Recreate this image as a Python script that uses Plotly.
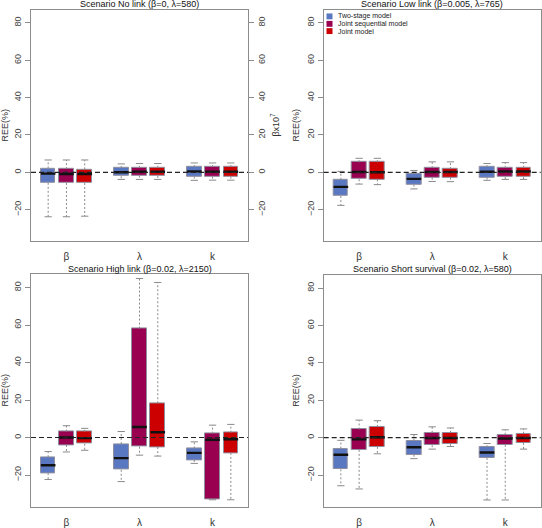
import plotly.graph_objects as go

# ---------------- data (REE %) ----------------
# order in each list: beta(TS, JS, J), lambda(TS, JS, J), k(TS, JS, J)
PARAMS = ["β", "λ", "k"]
MODELS = ["Two-stage model", "Joint sequential model", "Joint model"]
TITLES = ["Scenario No link (β=0, λ=580)",
          "Scenario Low link (β=0.005, λ=765)",
          "Scenario High link (β=0.02, λ=2150)",
          "Scenario Short survival (β=0.02, λ=580)"]
Y_TICKS = [-20, 0, 20, 40, 60, 80]

no_low = [-23.8, -23.8, -23.5, -3.8, -3.8, -3.8, -4.3, -4.2, -4.2]
no_q1 = [-5.6, -5.7, -5.7, -2.1, -1.7, -1.9, -2.3, -2.3, -2.3]
no_med = [-0.7, -0.9, -0.9, 0.0, 0.3, 0.3, 0.5, 0.3, 0.3]
no_q3 = [2.1, 1.7, 1.6, 2.3, 2.4, 2.4, 2.8, 2.8, 2.8]
no_up = [6.6, 6.6, 6.6, 4.5, 4.7, 4.7, 5.0, 5.0, 5.0]

lowl_low = [-17.7, -6.3, -6.6, -8.9, -4.9, -5.0, -4.3, -3.8, -3.8]
lowl_q1 = [-12.7, -3.7, -3.8, -6.6, -2.8, -2.8, -2.8, -2.6, -2.6]
lowl_med = [-7.8, 0.2, 0.0, -3.5, 0.2, 0.2, 0.3, 0.5, 0.5]
lowl_q3 = [-4.0, 5.4, 5.4, -1.0, 2.3, 1.7, 2.8, 2.4, 2.4]
lowl_up = [0.5, 7.5, 7.5, 1.0, 5.6, 5.6, 4.7, 5.2, 5.2]

high_low = [-22.4, -7.7, -6.8, -23.5, -9.4, -9.9, -13.8, -33.2, -33.2]
high_q1 = [-19.0, -4.0, -3.3, -17.2, -4.9, -5.1, -12.0, -33.2, -8.2]
high_med = [-14.8, 0.0, -0.3, -11.0, 5.6, 2.8, -8.2, -1.2, -0.9]
high_q3 = [-10.5, 3.2, 3.1, -3.5, 58.1, 18.3, -5.8, 2.1, 2.6]
high_up = [-7.5, 6.3, 4.9, 3.2, 84.8, 82.7, -2.3, 6.6, 7.0]

short_low = [-25.7, -27.4, -8.6, -11.2, -6.1, -4.7, -33.3, -33.3, -6.1]
short_q1 = [-16.9, -6.5, -4.9, -9.1, -4.0, -3.3, -10.8, -3.8, -2.8]
short_med = [-9.1, -0.9, 0.2, -5.1, -0.2, -0.2, -7.9, -0.5, -0.2]
short_q3 = [-5.8, 4.4, 5.8, -1.7, 2.6, 2.6, -5.1, 1.6, 2.1]
short_up = [-1.4, 9.4, 9.1, 1.7, 5.8, 5.2, -3.1, 4.2, 4.7]

# ---------------- styling ----------------
COLORS = ["#5a78c2", "#990050", "#cc0000"]
FONT = "Liberation Sans, Arial, Helvetica, sans-serif"
W, H = 542, 528
YR = [-36.8, 87.0]
XR = [0.06, 11.94]
BOXW = 0.8

panels = [
    (no_low, no_q1, no_med, no_q3, no_up),
    (lowl_low, lowl_q1, lowl_med, lowl_q3, lowl_up),
    (high_low, high_q1, high_med, high_q3, high_up),
    (short_low, short_q1, short_med, short_q3, short_up),
]

# panel frames in pixels (left, right, top, bottom)
frames = [(31, 248, 10, 245.7), (323.7, 540.7, 10, 245.7),
          (31, 248, 279.7, 516.3), (323.7, 540.7, 280.3, 516.3)]

fig = go.Figure()

positions = [g * 4 + m + 1 for g in range(3) for m in range(3)]

for p, (lo, q1, med, q3, up) in enumerate(panels):
    xa = "x" if p == 0 else f"x{p+1}"
    ya = "y" if p == 0 else f"y{p+1}"
    wx, wy, cx, cy, mx, my = [], [], [], [], [], []
    for i, pos in enumerate(positions):
        wx += [pos, pos, None, pos, pos, None]
        wy += [q3[i], up[i], None, q1[i], lo[i], None]
        cx += [pos - BOXW / 4, pos + BOXW / 4, None, pos - BOXW / 4, pos + BOXW / 4, None]
        cy += [up[i], up[i], None, lo[i], lo[i], None]
        mx += [pos - BOXW / 2, pos + BOXW / 2, None]
        my += [med[i], med[i], None]
    fig.add_trace(go.Scatter(x=wx, y=wy, mode="lines", xaxis=xa, yaxis=ya,
                             line=dict(color="#8a8a8a", width=1, dash="2px,2px"),
                             showlegend=False, hoverinfo="skip"))
    fig.add_trace(go.Scatter(x=cx, y=cy, mode="lines", xaxis=xa, yaxis=ya,
                             line=dict(color="#8a8a8a", width=1),
                             showlegend=False, hoverinfo="skip"))
    for m in range(3):
        idx = [g * 3 + m for g in range(3)]
        fig.add_trace(go.Bar(
            x=[positions[i] for i in idx],
            y=[q3[i] - q1[i] for i in idx],
            base=[q1[i] for i in idx],
            width=BOXW, xaxis=xa, yaxis=ya,
            marker=dict(color=COLORS[m], line=dict(color="#8f8f9f", width=1)),
            name=MODELS[m], showlegend=False))
    # medians (first panel's go on the overlaid right-hand axis, same range)
    fig.add_trace(go.Scatter(x=mx, y=my, mode="lines", xaxis=xa,
                             yaxis=("y5" if p == 0 else ya),
                             line=dict(color="#111111", width=2.4),
                             showlegend=False, hoverinfo="skip"))
    fig.add_shape(type="line", xref=f"{xa} domain", yref=ya, x0=0, x1=1, y0=0, y1=0,
                  line=dict(color="#222222", width=1.2, dash="5px,3px"), layer="above")

layout = dict(
    width=W, height=H, margin=dict(l=0, r=0, t=0, b=0),
    paper_bgcolor="white", plot_bgcolor="white",
    font=dict(family=FONT, size=9, color="#333333"),
    showlegend=False, barmode="overlay", bargap=0,
)

for p, (l, r, t, b) in enumerate(frames):
    xk = "xaxis" if p == 0 else f"xaxis{p+1}"
    yk = "yaxis" if p == 0 else f"yaxis{p+1}"
    xa = "x" if p == 0 else f"x{p+1}"
    ya = "y" if p == 0 else f"y{p+1}"
    layout[xk] = dict(domain=[l / W, r / W], range=XR, anchor=ya,
                      tickvals=[2, 6, 10], ticktext=PARAMS,
                      ticks="outside", ticklen=6, tickcolor="rgba(0,0,0,0)",
                      tickfont=dict(size=10, color="#333333"),
                      showline=True, mirror=True, linecolor="#8c8c8c", linewidth=1.3,
                      showgrid=False, zeroline=False, fixedrange=True)
    layout[yk] = dict(domain=[1 - b / H, 1 - t / H], range=YR, anchor=xa,
                      tickvals=Y_TICKS, tickangle=-90,
                      ticks="outside", ticklen=5, tickcolor="#8c8c8c",
                      tickfont=dict(size=9, color="#444444"),
                      showline=True, mirror=True, linecolor="#8c8c8c", linewidth=1.3,
                      showgrid=False, zeroline=False, fixedrange=True)

# right-hand axis on the first panel
layout["yaxis5"] = dict(overlaying="y", side="right", anchor="x", range=YR,
                        tickvals=Y_TICKS, tickangle=-90,
                        ticks="outside", ticklen=5, tickcolor="#8c8c8c",
                        tickfont=dict(size=9, color="#444444"),
                        showline=False, showgrid=False, zeroline=False, fixedrange=True)

fig.update_layout(**layout)

ann = []
title_y = [4, 4, 274.7, 274.7]
for p, (l, r, t, b) in enumerate(frames):
    ann.append(dict(text=TITLES[p], x=(l + r) / 2 / W, y=1 - title_y[p] / H,
                    xref="paper", yref="paper", xanchor="center", yanchor="middle",
                    showarrow=False, font=dict(size=9, color="#111111")))
    xl = 5 if p in (0, 2) else 296
    ann.append(dict(text="REE(%)", x=xl / W, y=1 - (t + b) / 2 / H,
                    xref="paper", yref="paper", xanchor="center", yanchor="middle",
                    textangle=-90, showarrow=False, font=dict(size=9, color="#333333")))
ann.append(dict(text="βx10<sup>7</sup>", x=275 / W, y=1 - 127 / H,
                xref="paper", yref="paper", xanchor="center", yanchor="middle",
                textangle=-90, showarrow=False, font=dict(size=9, color="#333333")))

# manual legend inside the "Low link" panel
leg_rows = [16.7, 24.3, 31.7]
for m in range(3):
    yc = leg_rows[m]
    fig.add_shape(type="rect", xref="paper", yref="paper",
                  x0=326.5 / W, x1=332.5 / W, y0=1 - (yc + 3) / H, y1=1 - (yc - 3) / H,
                  fillcolor=COLORS[m], line=dict(width=0))
    ann.append(dict(text=MODELS[m], x=335.5 / W, y=1 - yc / H, xref="paper", yref="paper",
                    xanchor="left", yanchor="middle", showarrow=False,
                    font=dict(size=7, color="#222222")))
fig.update_layout(annotations=ann)

fig.write_html("out.html", config={"displayModeBar": False},
               post_script="document.body.style.margin='0';")
